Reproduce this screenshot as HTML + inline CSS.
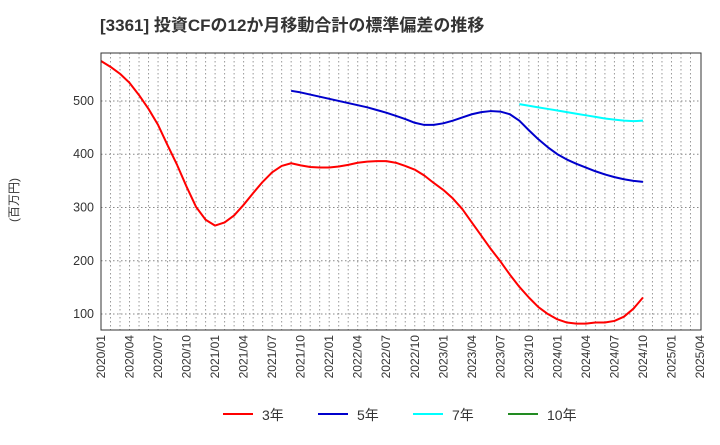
<!DOCTYPE html>
<html><head><meta charset="utf-8"><style>
body{margin:0;background:#fff;}
text{font-family:"Liberation Sans","Noto Sans CJK JP",sans-serif;}
</style></head><body>
<svg id="chart" width="720" height="440" xmlns="http://www.w3.org/2000/svg">
<text x="100" y="31" font-size="17" font-weight="bold" fill="#333">[3361]  投資CFの12か月移動合計の標準偏差の推移</text>
<text transform="translate(18,200) rotate(-90)" text-anchor="middle" font-size="12" fill="#333">(百万円)</text>
<g id="grid"></g><g id="series"></g><g id="axes"></g>
<g>
<line x1="223" y1="414" x2="253" y2="414" stroke="#ff0000" stroke-width="2"/><text x="262" y="420" font-size="14" fill="#333">3年</text>
<line x1="318" y1="414" x2="348" y2="414" stroke="#0000cc" stroke-width="2"/><text x="357" y="420" font-size="14" fill="#333">5年</text>
<line x1="413" y1="414" x2="443" y2="414" stroke="#00ffff" stroke-width="2"/><text x="452" y="420" font-size="14" fill="#333">7年</text>
<line x1="508" y1="414" x2="538" y2="414" stroke="#228b22" stroke-width="2"/><text x="547" y="420" font-size="14" fill="#333">10年</text>
</g>
</svg>
<script>
const yTicks=[100,200,300,400,500];
const xLabels=["2020/01","2020/04","2020/07","2020/10","2021/01","2021/04","2021/07","2021/10","2022/01","2022/04","2022/07","2022/10","2023/01","2023/04","2023/07","2023/10","2024/01","2024/04","2024/07","2024/10","2025/01","2025/04"];
const s3start=0;
const s3=[575,564,551,534,511,485,455,417,380,339,301,277,266,272,285,305,327,348,366,378,383,379,376,375,375,377,380,384,386,387,387,384,378,371,360,346,333,317,297,272,247,222,199,174,151,131,113,100,90,84,82,82,84,84,87,95,110,131];
const s5start=20;
const s5=[519,516,512,508,504,500,496,492,488,483,478,472,466,459,455,455,458,463,469,475,479,481,480,475,463,445,428,413,400,390,382,375,368,362,357,353,350,348];
const s7start=44;
const s7=[494,491,488,485,482,479,476,473,470,467,465,463,462,463];
const L=101,R=701,T=53,B=330,ymin=70,ymax=590;
const X=i=>L+i*(R-L-1)/63, Y=v=>B-(v-ymin)/(ymax-ymin)*(B-T);
const ns="http://www.w3.org/2000/svg";
function mk(p,t,a){const e=document.createElementNS(ns,t);for(const k in a)e.setAttribute(k,a[k]);document.getElementById(p).appendChild(e);return e;}
for(let m=1;m<63;m++){const l=mk('grid','line',{x1:X(m),x2:X(m),y1:T,y2:B,stroke:'#999','stroke-dasharray':'1.5,2.5'});

}
yTicks.forEach(v=>{const l=mk('grid','line',{x1:L,x2:R,y1:Y(v),y2:Y(v),stroke:'#888','stroke-dasharray':'1.5,2.5'});


const t=mk('axes','text',{x:L-7,y:Y(v)+4,'text-anchor':'end','font-size':'12.5',fill:'#333'});


t.textContent=v;});
xLabels.forEach((s,i)=>{const x=X(i*3);const t=mk('axes','text',{transform:`translate(${x+4},${B+5}) rotate(-90)`,'text-anchor':'end','font-size':'12',fill:'#333'});


t.textContent=s;});
const fr=mk('axes','rect',{x:L,y:T,width:R-L,height:B-T,fill:'none',stroke:'#333','stroke-width':'1'});


function line(arr,st,col,name){const p=mk('series','polyline',{points:arr.map((v,i)=>X(st+i)+','+Y(v)).join(' '),fill:'none',stroke:col,'stroke-width':'2','stroke-linejoin':'round'});

}
line(s3,s3start,'#ff0000','series-3y');
line(s5,s5start,'#0000cc','series-5y');
line(s7,s7start,'#00ffff','series-7y');
</script>
</body></html>
